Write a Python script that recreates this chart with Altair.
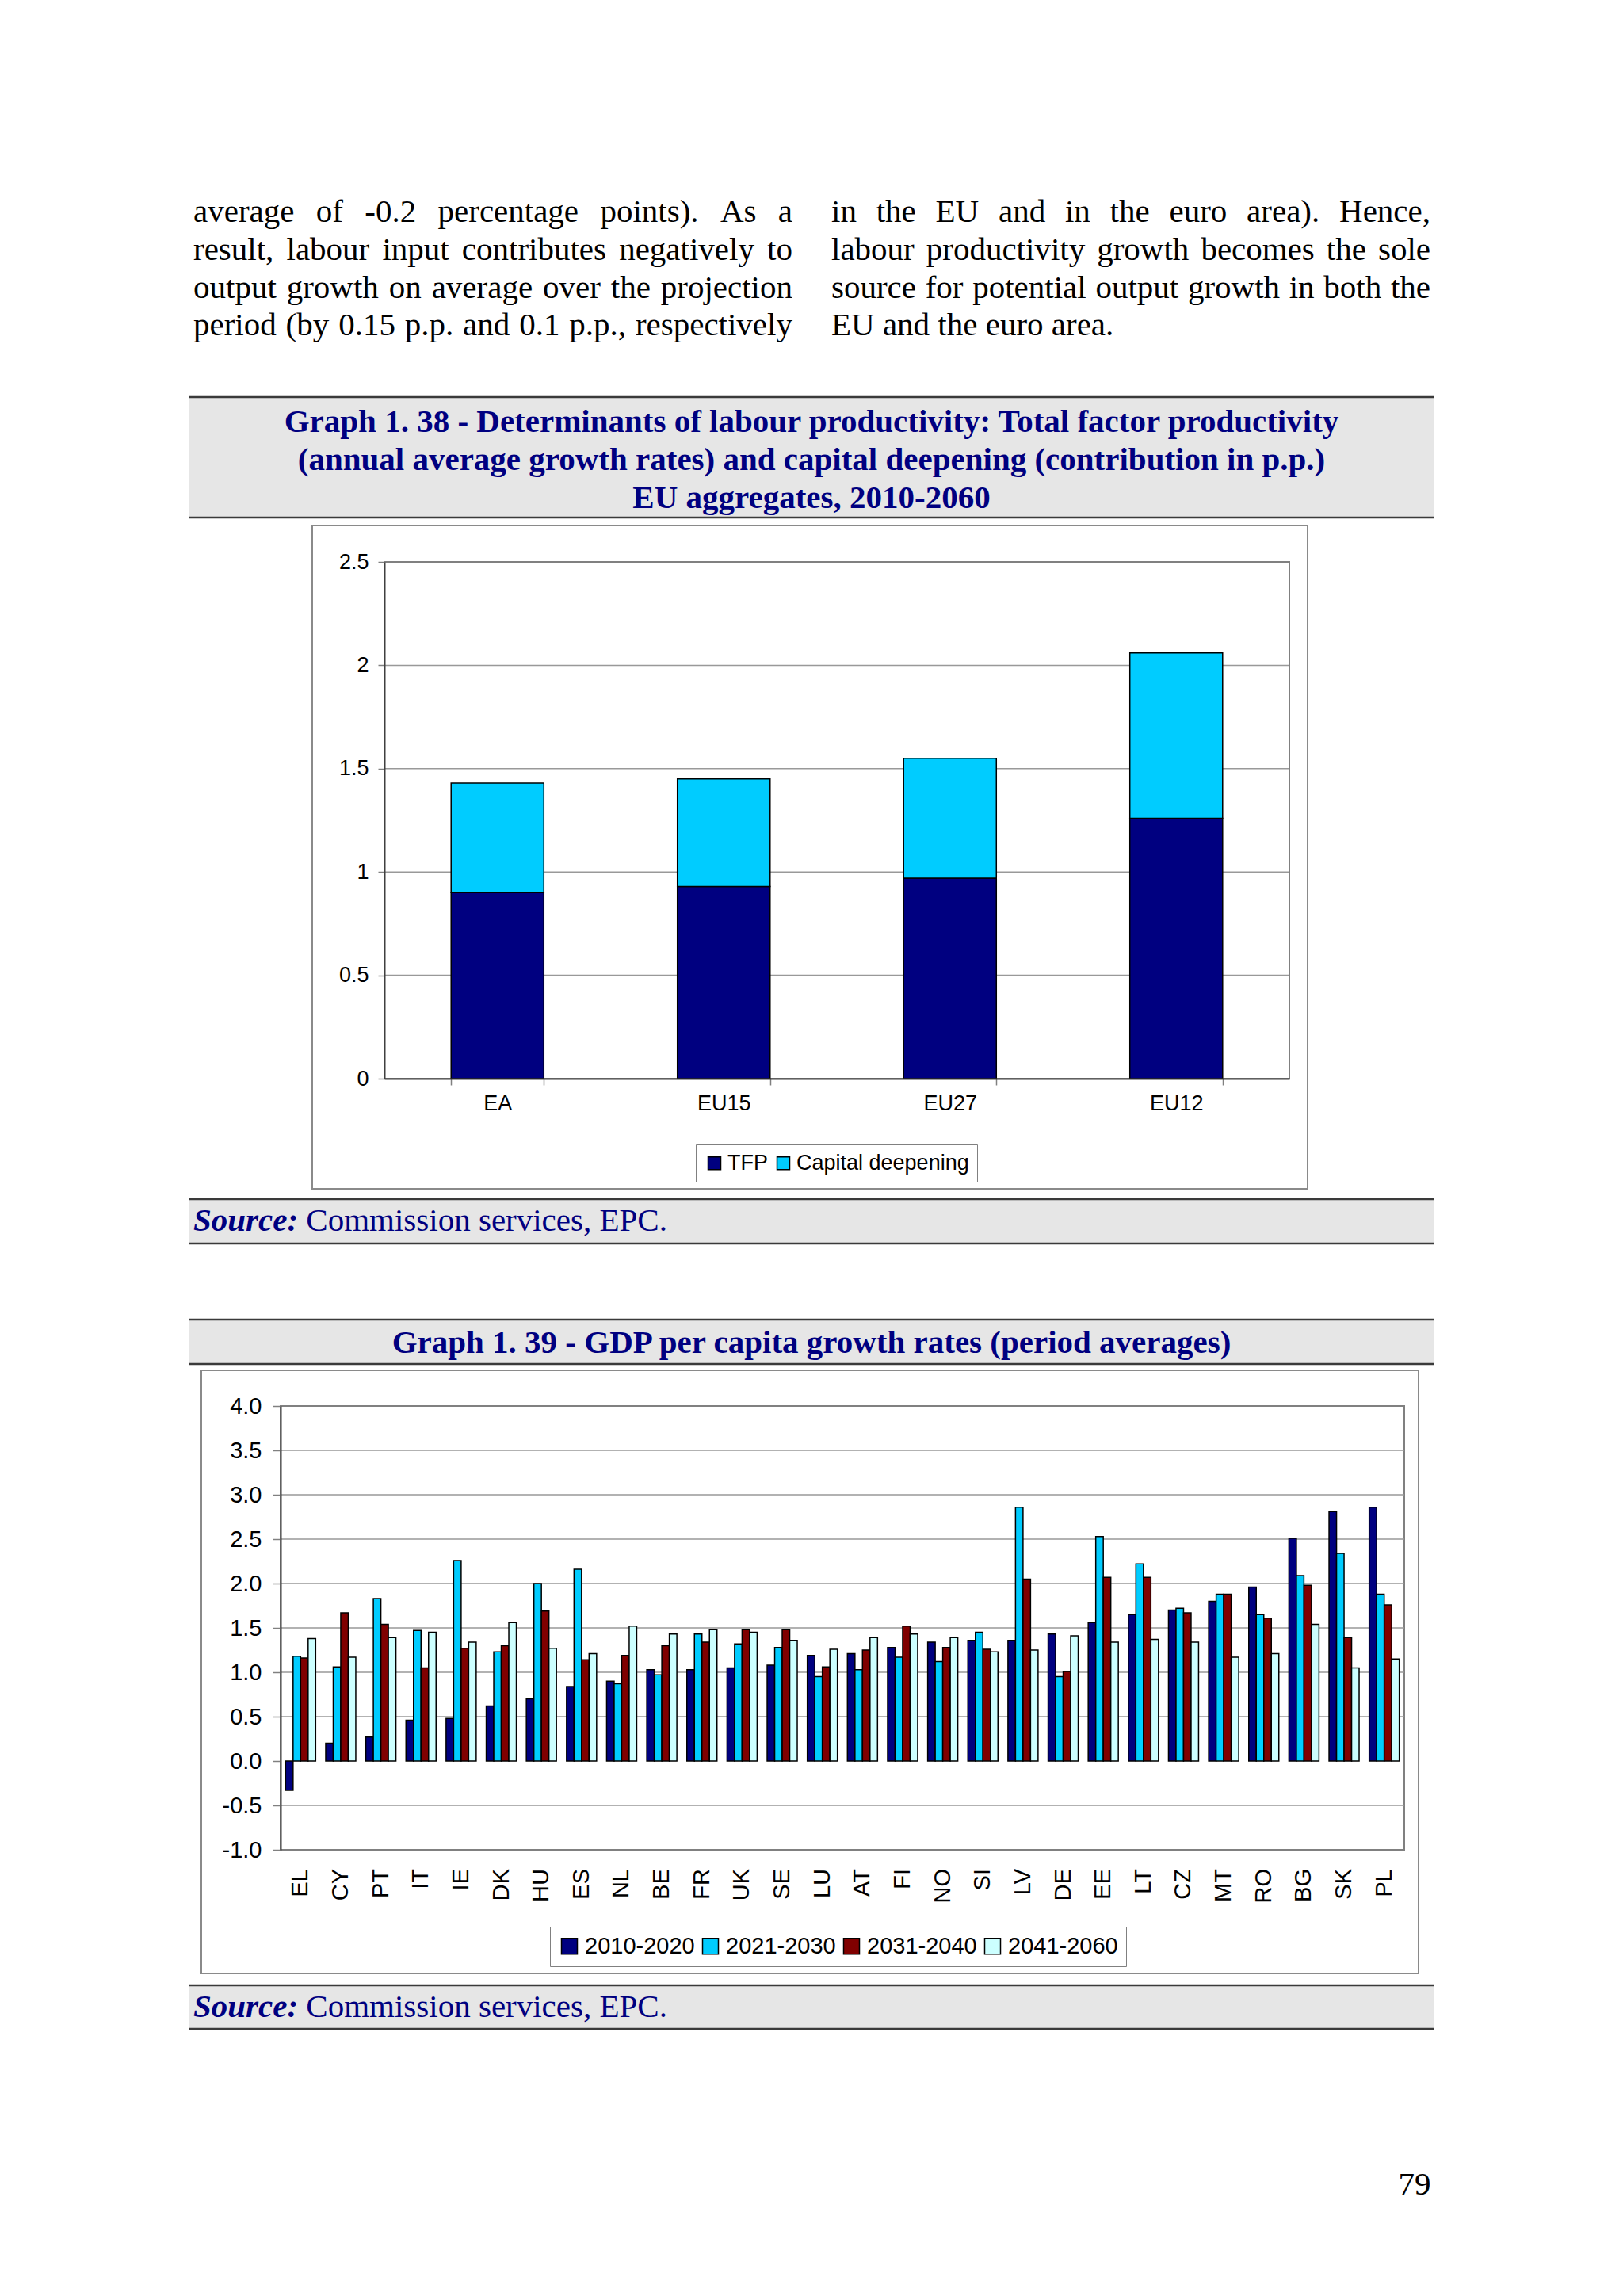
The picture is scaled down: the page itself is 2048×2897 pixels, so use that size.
import altair as alt
import pandas as pd

# ------------------------------------------------------------------ page text
left_lines = [
    "average of -0.2 percentage points). As a",
    "result, labour input contributes negatively to",
    "output growth on average over the projection",
    "period (by 0.15 p.p. and 0.1 p.p., respectively",
]
right_lines = [
    "in the EU and in the euro area). Hence,",
    "labour productivity growth becomes the sole",
    "source for potential output growth in both the",
    "EU and the euro area.",
]
title1_lines = [
    "Graph 1. 38 - Determinants of labour productivity: Total factor productivity",
    "(annual average growth rates) and capital deepening (contribution in p.p.)",
    "EU aggregates, 2010-2060",
]
title2 = "Graph 1. 39 - GDP per capita growth rates (period averages)"
source_label = "Source:"
source_text = "Commission services, EPC."
page_number = "79"

# ------------------------------------------------------------------ Graph 1.38
regions = ["EA", "EU15", "EU27", "EU12"]
tfp = [0.90, 0.93, 0.97, 1.26]
capital_deepening = [0.53, 0.52, 0.58, 0.80]
components = ["TFP", "Capital deepening"]
ticks_1 = [0, 0.5, 1, 1.5, 2, 2.5]

# ------------------------------------------------------------------ Graph 1.39
countries = ["EL", "CY", "PT", "IT", "IE", "DK", "HU", "ES", "NL", "BE", "FR", "UK",
             "SE", "LU", "AT", "FI", "NO", "SI", "LV", "DE", "EE", "LT", "CZ", "MT",
             "RO", "BG", "SK", "PL"]
periods = ["2010-2020", "2021-2030", "2031-2040", "2041-2060"]
growth_2010_2020 = [-0.33, 0.20, 0.27, 0.46, 0.48, 0.62, 0.70, 0.84, 0.90, 1.03, 1.03, 1.05,
                    1.08, 1.19, 1.21, 1.28, 1.34, 1.36, 1.36, 1.43, 1.56, 1.65, 1.70, 1.80,
                    1.96, 2.51, 2.81, 2.86]
growth_2021_2030 = [1.18, 1.06, 1.83, 1.47, 2.26, 1.23, 2.00, 2.16, 0.87, 0.97, 1.43, 1.32,
                    1.28, 0.95, 1.03, 1.17, 1.12, 1.45, 2.86, 0.95, 2.53, 2.22, 1.72, 1.88,
                    1.65, 2.09, 2.34, 1.88]
growth_2031_2040 = [1.16, 1.67, 1.54, 1.05, 1.27, 1.30, 1.69, 1.14, 1.19, 1.30, 1.34, 1.48,
                    1.48, 1.06, 1.25, 1.52, 1.28, 1.26, 2.05, 1.01, 2.07, 2.07, 1.67, 1.88,
                    1.61, 1.98, 1.39, 1.76]
growth_2041_2060 = [1.38, 1.17, 1.39, 1.45, 1.34, 1.56, 1.27, 1.21, 1.52, 1.43, 1.48, 1.45,
                    1.36, 1.26, 1.39, 1.43, 1.39, 1.23, 1.25, 1.41, 1.34, 1.37, 1.34, 1.17,
                    1.21, 1.54, 1.05, 1.15]
ticks_2 = [-1.0, -0.5, 0.0, 0.5, 1.0, 1.5, 2.0, 2.5, 3.0, 3.5, 4.0]

# ------------------------------------------------------------------ styling
O = 8                      # page margin
W, H = 2030, 2879
SANS = "Liberation Sans"
SERIF = "Liberation Serif"
NAVY_TXT = "#000080"
colors_1 = ["#000080", "#00CCFF"]
colors_2 = ["#000080", "#00CCFF", "#800000", "#CCFFFF"]
BODY_FS = 41

# Times (Liberation Serif) advance widths, 1/1000 em
TIMES = {" ": 250, "(": 333, ")": 333, ",": 250, "-": 333, ".": 250, ":": 278,
         "A": 722, "E": 611, "H": 722, "U": 722, "S": 556, "C": 667, "P": 556,
         "a": 444, "b": 500, "c": 444, "d": 500, "e": 444, "f": 333, "g": 500,
         "h": 500, "i": 278, "j": 278, "k": 500, "l": 278, "m": 778, "n": 500,
         "o": 500, "p": 500, "q": 500, "r": 333, "s": 389, "t": 278, "u": 500,
         "v": 500, "w": 722, "x": 500, "y": 500, "z": 444}


def tw(s, fs=BODY_FS):
    return sum(TIMES.get(ch, 500) for ch in s) * fs / 1000.0


def p(v):
    return v - O


one = pd.DataFrame({"k": [0]})


def rect(x1, y1, x2, y2, fill, stroke="#808080", sw=0):
    kw = dict(fill=fill)
    if sw > 0:
        kw.update(stroke=stroke, strokeWidth=sw)
    return alt.Chart(one).mark_rect(**kw).encode(
        x=alt.value(p(x1)), x2=alt.value(p(x2)), y=alt.value(p(y1)), y2=alt.value(p(y2)))


def hrule(x1, x2, y, color, sw):
    return alt.Chart(one).mark_rule(color=color, strokeWidth=sw).encode(
        x=alt.value(p(x1)), x2=alt.value(p(x2)), y=alt.value(p(y)))


def text(s, x, y, align="left", fs=BODY_FS, color="black", weight="normal", style="normal", font=SERIF):
    return alt.Chart(one).mark_text(align=align, baseline="middle", font=font, fontSize=fs,
                                    color=color, fontWeight=weight, fontStyle=style).encode(
        x=alt.value(p(x)), y=alt.value(p(y)), text=alt.value(s))


layers = []

# ------------------------------------------------------------------ justified body text
line_y = [268, 316, 364, 411]
rows = []
for lines, x0, x1, justify_last in [(left_lines, 244, 1000, True), (right_lines, 1049, 1805, False)]:
    for i, line in enumerate(lines):
        ws = line.split(" ")
        widths = [tw(w) for w in ws]
        justify = justify_last or i < len(lines) - 1
        gap = (x1 - x0 - sum(widths)) / (len(ws) - 1) if justify else tw(" ")
        x = x0
        for w, wd in zip(ws, widths):
            rows.append({"word": w, "x": p(x), "y": p(line_y[i])})
            x += wd + gap
words = pd.DataFrame(rows)
layers.append(
    alt.Chart(words).mark_text(align="left", baseline="middle", font=SERIF, fontSize=BODY_FS,
                               color="black").encode(
        x=alt.X("x:Q", scale=None, axis=None),
        y=alt.Y("y:Q", scale=None, axis=None),
        text="word:N"))

# ------------------------------------------------------------------ grey caption boxes
BX1, BX2 = 239, 1809


def caption_box(y1, y2):
    return [rect(BX1, y1, BX2, y2, "#E6E6E6"),
            hrule(BX1, BX2, y1, "#3a3a3a", 2.5),
            hrule(BX1, BX2, y2, "#3a3a3a", 2.5)]


layers += caption_box(501, 653)
layers += caption_box(1513, 1569)
layers += caption_box(1665, 1721)
layers += caption_box(2505, 2560)

for s, y in zip(title1_lines, [533, 581, 629]):
    layers.append(text(s, 1024, y, align="center", color=NAVY_TXT, weight="bold"))
layers.append(text(title2, 1024, 1695, align="center", color=NAVY_TXT, weight="bold"))

src_w = sum({"S": 556, "o": 500, "u": 556, "r": 389, "c": 444, "e": 444, ":": 333}[c]
            for c in source_label) * BODY_FS / 1000.0
for y in [1541, 2533]:
    layers.append(text(source_label, 244, y, color=NAVY_TXT, weight="bold", style="italic"))
    layers.append(text(source_text, 244 + src_w + tw(" "), y, color=NAVY_TXT))

layers.append(text(page_number, 1785, 2757, align="center"))

# ------------------------------------------------------------------ Graph 1.38
PL1, PR1, PT1, PB1 = 485, 1627, 709, 1361
layers.append(rect(394, 663, 1650, 1500, "white", "#8a8a8a", 2))
layers.append(rect(PL1, PT1, PR1, PB1, "white", "#808080", 2))

Y1 = alt.Scale(domain=[0, 2.5], range=[p(PB1), p(PT1)], nice=False)
X1 = alt.Scale(domain=regions, range=[p(PL1), p(PR1)], paddingInner=0.59, paddingOuter=0.295)

grid1 = pd.DataFrame({"v": [t for t in ticks_1 if 0 < t < 2.5]})
layers.append(alt.Chart(grid1).mark_rule(color="#999999", strokeWidth=1.5).encode(
    y=alt.Y("v:Q", scale=Y1, axis=None), x=alt.value(p(PL1)), x2=alt.value(p(PR1))))

df1 = pd.DataFrame(
    [{"region": r, "component": components[0], "value": v, "ord": 0} for r, v in zip(regions, tfp)] +
    [{"region": r, "component": components[1], "value": v, "ord": 1} for r, v in zip(regions, capital_deepening)])

layers.append(alt.Chart(df1).mark_bar(stroke="black", strokeWidth=1.5).encode(
    x=alt.X("region:N", scale=X1, title=None,
            axis=alt.Axis(orient="bottom", offset=p(PB1) - H, labelAngle=0, labelFont=SANS,
                          labelFontSize=27, labelColor="black", labelPadding=10,
                          tickBand="extent", tickSize=8, tickColor="#808080", tickWidth=1.5,
                          domainColor="#404040", domainWidth=2, grid=False, zindex=1)),
    y=alt.Y("value:Q", scale=Y1, stack="zero", title=None,
            axis=alt.Axis(orient="left", offset=-p(PL1), values=ticks_1, format="~g",
                          labelFont=SANS, labelFontSize=27, labelColor="black", labelPadding=12,
                          tickSize=8, tickColor="#808080", tickWidth=1.5,
                          domainColor="#404040", domainWidth=2, grid=False, zindex=1)),
    color=alt.Color("component:N", scale=alt.Scale(domain=components, range=colors_1),
                    legend=alt.Legend(orient="none", legendX=p(878), legendY=p(1444),
                                      direction="horizontal", columns=2, title=None,
                                      labelFont=SANS, labelFontSize=27, labelColor="black",
                                      labelLimit=500, symbolType="square", symbolSize=256,
                                      symbolStrokeColor="black", symbolStrokeWidth=1.5,
                                      labelOffset=3, columnPadding=6, padding=10,
                                      strokeColor="#808080", fillColor="white")),
    order=alt.Order("ord:Q")))

# ------------------------------------------------------------------ Graph 1.39
PL2, PR2, PT2, PB2 = 354, 1772, 1774, 2334
ZERO2 = PB2 - (PB2 - PT2) / 5.0
layers.append(rect(254, 1729, 1790, 2490, "white", "#8a8a8a", 2))
layers.append(rect(PL2, PT2, PR2, PB2, "white", "#808080", 2))

Y2 = alt.Scale(domain=[-1, 4], range=[p(PB2), p(PT2)], nice=False)
X2 = alt.Scale(domain=countries, range=[p(PL2), p(PR2)], paddingInner=0.25, paddingOuter=0.125)

grid2 = pd.DataFrame({"v": [t for t in ticks_2 if -1 < t < 4 and t != 0]})
layers.append(alt.Chart(grid2).mark_rule(color="#999999", strokeWidth=1.5).encode(
    y=alt.Y("v:Q", scale=Y2, axis=None), x=alt.value(p(PL2)), x2=alt.value(p(PR2))))

series = [growth_2010_2020, growth_2021_2030, growth_2031_2040, growth_2041_2060]
df2 = pd.DataFrame([{"country": c, "period": per, "value": v}
                    for per, vals in zip(periods, series) for c, v in zip(countries, vals)])

# category axis crossing at zero (ticks between categories), drawn beneath the bars
layers.append(alt.Chart(pd.DataFrame({"country": countries})).mark_point(opacity=0).encode(
    x=alt.X("country:N", scale=X2, title=None,
            axis=alt.Axis(orient="bottom", offset=ZERO2 - O - H, labels=False,
                          tickBand="extent", tickSize=10, tickColor="#808080", tickWidth=1.5,
                          domainColor="#404040", domainWidth=2, grid=False)),
    y=alt.value(p(ZERO2))))

layers.append(alt.Chart(df2).mark_bar(stroke="black", strokeWidth=1.5).encode(
    x=alt.X("country:N", scale=X2, title=None, axis=None),
    xOffset=alt.XOffset("period:N", scale=alt.Scale(domain=periods)),
    y=alt.Y("value:Q", scale=Y2, title=None,
            axis=alt.Axis(orient="left", offset=-p(PL2), values=ticks_2,
                          labelExpr="(datum.value < 0 ? '-' : '') + format(abs(datum.value), '.1f')",
                          labelFont=SANS, labelFontSize=29, labelColor="black", labelPadding=14,
                          tickSize=10, tickColor="#808080", tickWidth=1.5,
                          domainColor="#404040", domainWidth=2, grid=False, zindex=1)),
    color=alt.Color("period:N", scale=alt.Scale(domain=periods, range=colors_2),
                    legend=alt.Legend(orient="none", legendX=p(694), legendY=p(2431),
                                      direction="horizontal", columns=4, title=None,
                                      labelFont=SANS, labelFontSize=29, labelColor="black",
                                      labelLimit=500, symbolType="square", symbolSize=400,
                                      symbolStrokeColor="black", symbolStrokeWidth=1.5,
                                      labelOffset=5, columnPadding=5, padding=10,
                                      strokeColor="#808080", fillColor="white"))))

# rotated country labels under the plot area
layers.append(alt.Chart(pd.DataFrame({"country": countries})).mark_text(
    angle=270, align="right", baseline="middle", font=SANS, fontSize=29, color="black").encode(
    x=alt.X("country:N", scale=X2, axis=None),
    y=alt.value(p(2358)),
    text="country:N"))

chart = alt.layer(*layers).resolve_scale(
    x="independent", y="independent", color="independent"
).properties(
    width=W, height=H, autosize=alt.AutoSizeParams(type="none"), padding=0, background="white"
).configure_view(strokeWidth=0)

chart.save("out.html", embed_options={"renderer": "svg", "actions": False})
